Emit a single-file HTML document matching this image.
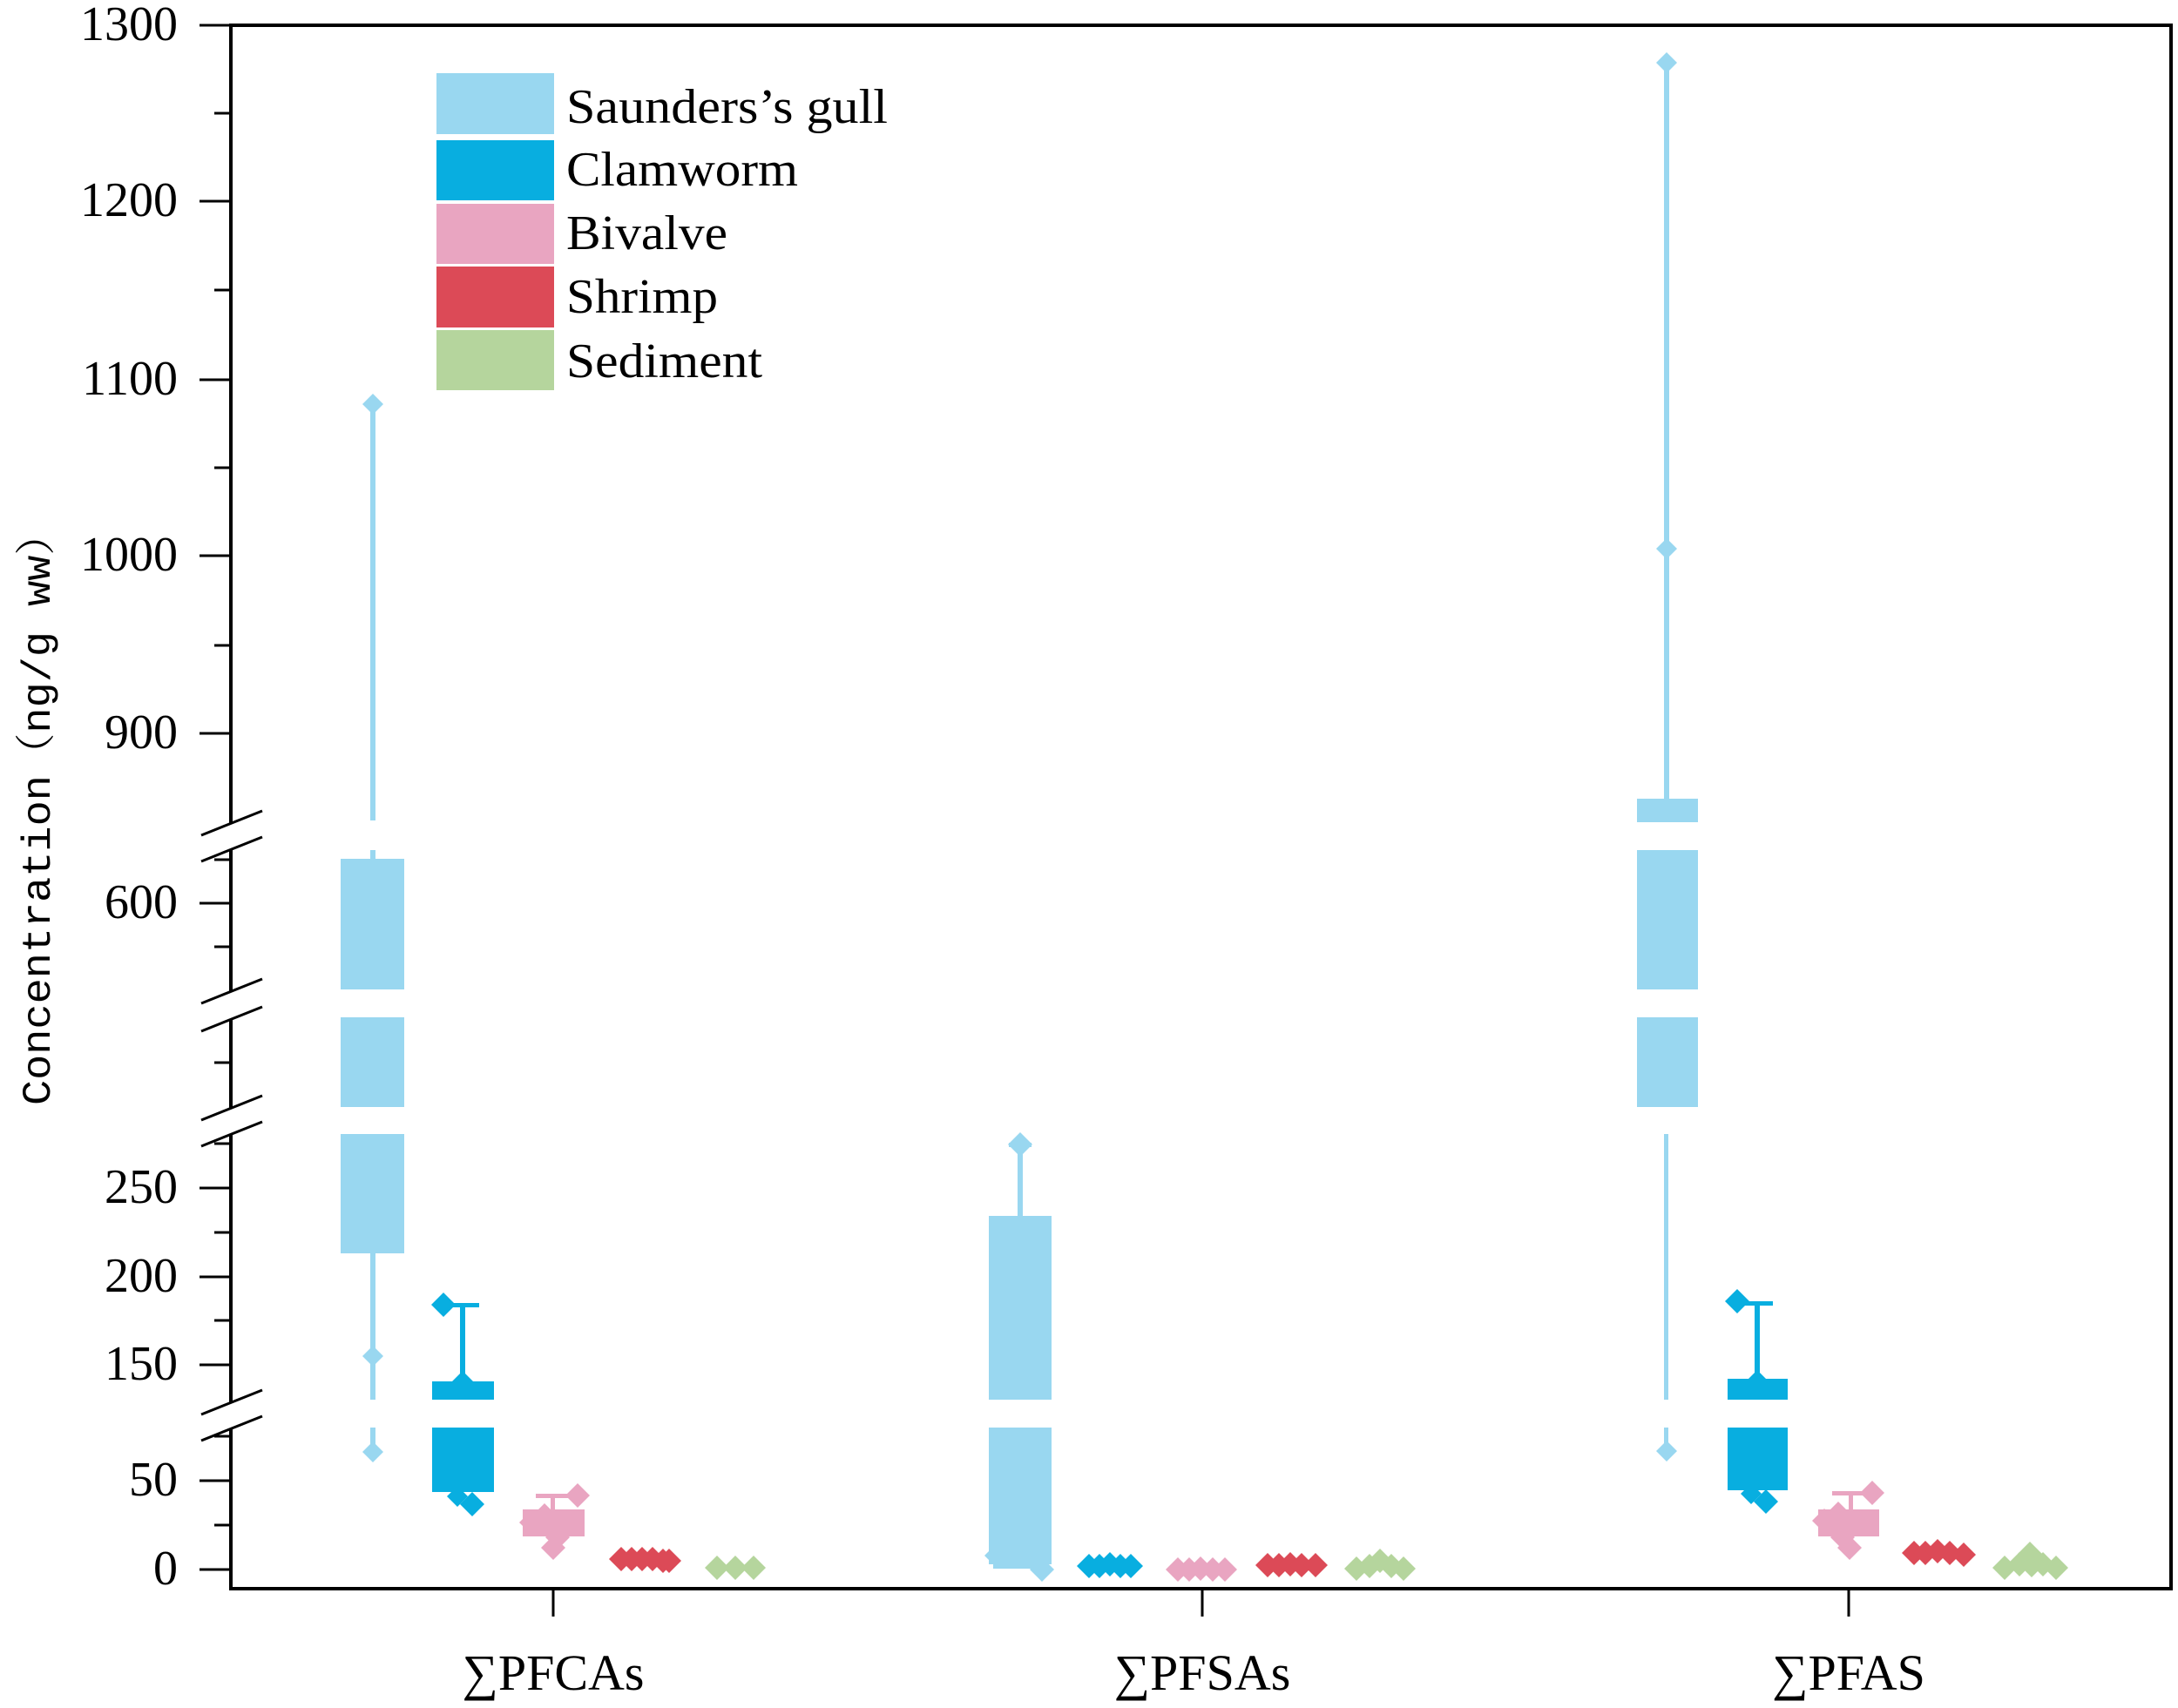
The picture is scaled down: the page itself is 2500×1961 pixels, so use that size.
<!DOCTYPE html>
<html><head><meta charset="utf-8"><style>
html,body{margin:0;padding:0;background:#fff;}
svg{display:block;}
text{font-family:"Liberation Serif",serif;fill:#000;}
</style></head><body>
<svg width="2500" height="1961" viewBox="0 0 2500 1961" xmlns="http://www.w3.org/2000/svg">
<defs>
<path id="d" d="M0,-14 L14,0 L0,14 L-14,0Z"/>
<path id="ds" d="M0,-12 L12,0 L0,12 L-12,0Z"/>
</defs>
<rect width="2500" height="1961" fill="#fff"/>

<g stroke="#000" stroke-width="4" fill="none">
<line x1="263" y1="29" x2="2494" y2="29"/>
<line x1="2492" y1="29" x2="2492" y2="1826"/>
<line x1="263" y1="1824" x2="2494" y2="1824"/>
<line x1="265" y1="29" x2="265" y2="945"/>
<line x1="265" y1="975" x2="265" y2="1138"/>
<line x1="265" y1="1170" x2="265" y2="1272"/>
<line x1="265" y1="1302" x2="265" y2="1610"/>
<line x1="265" y1="1640" x2="265" y2="1824"/>
</g>
<g stroke="#000" stroke-width="3">
<line x1="231" y1="959" x2="301" y2="931"/><line x1="231" y1="989" x2="301" y2="961"/>
<line x1="231" y1="1152" x2="301" y2="1124"/><line x1="231" y1="1184" x2="301" y2="1156"/>
<line x1="231" y1="1286" x2="301" y2="1258"/><line x1="231" y1="1316" x2="301" y2="1288"/>
<line x1="231" y1="1624" x2="301" y2="1596"/><line x1="231" y1="1654" x2="301" y2="1626"/>
</g>
<g stroke="#000" stroke-width="3">
<line x1="229" y1="29" x2="265" y2="29"/><line x1="229" y1="231" x2="265" y2="231"/><line x1="229" y1="436" x2="265" y2="436"/><line x1="229" y1="638" x2="265" y2="638"/><line x1="229" y1="842" x2="265" y2="842"/>
<line x1="246" y1="130" x2="265" y2="130"/><line x1="246" y1="333" x2="265" y2="333"/><line x1="246" y1="537" x2="265" y2="537"/><line x1="246" y1="741" x2="265" y2="741"/>
<line x1="229" y1="1037" x2="265" y2="1037"/><line x1="246" y1="987" x2="265" y2="987"/><line x1="246" y1="1087" x2="265" y2="1087"/>
<line x1="246" y1="1220" x2="265" y2="1220"/>
<line x1="229" y1="1364" x2="265" y2="1364"/><line x1="229" y1="1466" x2="265" y2="1466"/><line x1="229" y1="1567" x2="265" y2="1567"/>
<line x1="246" y1="1313" x2="265" y2="1313"/><line x1="246" y1="1415" x2="265" y2="1415"/><line x1="246" y1="1516" x2="265" y2="1516"/>
<line x1="229" y1="1700" x2="265" y2="1700"/><line x1="229" y1="1802" x2="265" y2="1802"/>
<line x1="246" y1="1649" x2="265" y2="1649"/><line x1="246" y1="1751" x2="265" y2="1751"/>
<line x1="635" y1="1824" x2="635" y2="1856"/><line x1="1380" y1="1824" x2="1380" y2="1856"/><line x1="2122" y1="1824" x2="2122" y2="1856"/>
</g>
<g font-size="56" text-anchor="end">
<text x="204" y="46">1300</text><text x="204" y="248">1200</text><text x="204" y="453">1100</text><text x="204" y="655">1000</text><text x="204" y="859">900</text>
<text x="204" y="1054">600</text>
<text x="204" y="1381">250</text><text x="204" y="1483">200</text><text x="204" y="1584">150</text>
<text x="204" y="1717">50</text><text x="204" y="1819">0</text>
</g>
<g font-size="58" text-anchor="middle">
<text x="635" y="1940">∑PFCAs</text><text x="1380" y="1940">∑PFSAs</text><text x="2122" y="1940">∑PFAS</text>
</g>
<text transform="translate(57,929) rotate(-90)" font-size="46" text-anchor="middle" style="font-family:'Liberation Mono','Noto Serif CJK SC',monospace" textLength="680" lengthAdjust="spacingAndGlyphs">Concentration（ng/g ww）</text>

<rect x="501" y="84" width="135" height="70" fill="#99d7f0"/>
<rect x="501" y="161" width="135" height="69" fill="#08aee0"/>
<rect x="501" y="234" width="135" height="69" fill="#e9a5c1"/>
<rect x="501" y="306" width="135" height="70" fill="#dc4a57"/>
<rect x="501" y="379" width="135" height="69" fill="#b5d59d"/>
<g font-size="56">
<text x="650" y="141" textLength="369" lengthAdjust="spacingAndGlyphs">Saunders’s gull</text>
<text x="650" y="213" textLength="266" lengthAdjust="spacingAndGlyphs">Clamworm</text>
<text x="650" y="286" textLength="185" lengthAdjust="spacingAndGlyphs">Bivalve</text>
<text x="650" y="359" textLength="174" lengthAdjust="spacingAndGlyphs">Shrimp</text>
<text x="650" y="433" textLength="225" lengthAdjust="spacingAndGlyphs">Sediment</text>
</g>

<g fill="#99d7f0" stroke="none">
<rect x="425" y="464" width="6" height="478"/>
<rect x="425" y="976" width="6" height="12"/>
<rect x="391" y="986" width="73" height="150"/>
<rect x="391" y="1168" width="73" height="103"/>
<rect x="391" y="1302" width="73" height="137"/>
<rect x="425" y="1439" width="6" height="168"/>
<rect x="425" y="1639" width="6" height="28"/>
<use href="#ds" x="428" y="464"/><use href="#ds" x="428" y="1557"/><use href="#ds" x="428" y="1667"/>
</g>
<g fill="#08aee0">
<rect x="528" y="1498" width="6" height="90"/>
<rect x="512" y="1496" width="38" height="5"/>
<rect x="496" y="1586" width="71" height="21"/>
<rect x="496" y="1639" width="71" height="74"/>
<use href="#d" x="509" y="1498"/><use href="#d" x="542" y="1727"/><use href="#ds" x="525" y="1718"/><use href="#ds" x="531" y="1586"/>
</g>
<g fill="#e9a5c1">
<rect x="632" y="1717" width="5" height="20"/>
<rect x="615" y="1715" width="48" height="5"/>
<rect x="600" y="1733" width="71" height="31"/>
<use href="#d" x="663" y="1717"/><use href="#d" x="635" y="1777"/><use href="#d" x="610" y="1748"/><use href="#d" x="625" y="1740"/><use href="#d" x="640" y="1765"/>
</g>
<g fill="#dc4a57">
<use href="#d" x="713" y="1790"/><use href="#d" x="725" y="1790"/><use href="#d" x="737" y="1790"/><use href="#d" x="749" y="1790"/><use href="#d" x="761" y="1792"/><use href="#d" x="768" y="1792"/>
</g>
<g fill="#b5d59d">
<use href="#d" x="823" y="1800"/><use href="#d" x="844" y="1800"/><use href="#d" x="865" y="1800"/>
</g>

<g fill="#99d7f0">
<rect x="1168" y="1314" width="6" height="84"/>
<rect x="1158" y="1312" width="26" height="5"/>
<rect x="1135" y="1396" width="72" height="211"/>
<rect x="1135" y="1639" width="72" height="157"/>
<rect x="1140" y="1796" width="56" height="5"/>
<use href="#d" x="1171" y="1314"/><use href="#d" x="1144" y="1786"/><use href="#d" x="1196" y="1802"/>
</g>
<g fill="#08aee0">
<use href="#d" x="1250" y="1798"/><use href="#d" x="1262" y="1798"/><use href="#d" x="1274" y="1796"/><use href="#d" x="1286" y="1798"/><use href="#d" x="1298" y="1798"/>
</g>
<g fill="#e9a5c1">
<use href="#d" x="1352" y="1802"/><use href="#d" x="1365" y="1802"/><use href="#d" x="1378" y="1801"/><use href="#d" x="1392" y="1802"/><use href="#d" x="1406" y="1802"/>
</g>
<g fill="#dc4a57">
<use href="#d" x="1455" y="1797"/><use href="#d" x="1468" y="1797"/><use href="#d" x="1481" y="1796"/><use href="#d" x="1494" y="1797"/><use href="#d" x="1510" y="1797"/>
</g>
<g fill="#b5d59d">
<use href="#d" x="1557" y="1801"/><use href="#d" x="1572" y="1798"/><use href="#d" x="1584" y="1792"/><use href="#d" x="1597" y="1798"/><use href="#d" x="1611" y="1801"/>
</g>

<g fill="#99d7f0">
<rect x="1910" y="72" width="6" height="845"/>
<rect x="1879" y="917" width="70" height="27"/>
<rect x="1879" y="976" width="70" height="160"/>
<rect x="1879" y="1168" width="70" height="103"/>
<rect x="1910" y="1302" width="5" height="305"/>
<rect x="1910" y="1639" width="5" height="28"/>
<use href="#ds" x="1913" y="72"/><use href="#ds" x="1913" y="630"/><use href="#ds" x="1913" y="1666"/>
</g>
<g fill="#08aee0">
<rect x="2014" y="1496" width="6" height="90"/>
<rect x="1994" y="1494" width="41" height="5"/>
<rect x="1983" y="1583" width="69" height="24"/>
<rect x="1983" y="1639" width="69" height="72"/>
<use href="#d" x="1994" y="1494"/><use href="#d" x="2027" y="1724"/><use href="#ds" x="2010" y="1715"/><use href="#ds" x="2017" y="1585"/>
</g>
<g fill="#e9a5c1">
<rect x="2122" y="1714" width="5" height="22"/>
<rect x="2103" y="1712" width="44" height="5"/>
<rect x="2087" y="1733" width="70" height="31"/>
<use href="#d" x="2149" y="1714"/><use href="#d" x="2123" y="1777"/><use href="#d" x="2094" y="1746"/><use href="#d" x="2110" y="1738"/><use href="#d" x="2115" y="1765"/>
</g>
<g fill="#dc4a57">
<use href="#d" x="2197" y="1783"/><use href="#d" x="2210" y="1783"/><use href="#d" x="2224" y="1781"/><use href="#d" x="2238" y="1783"/><use href="#d" x="2254" y="1785"/>
</g>
<g fill="#b5d59d">
<use href="#d" x="2301" y="1800"/><use href="#d" x="2318" y="1796"/><use href="#d" x="2330" y="1784"/><use href="#d" x="2332" y="1797"/><use href="#d" x="2345" y="1796"/><use href="#d" x="2360" y="1800"/>
</g>
</svg>
</body></html>
